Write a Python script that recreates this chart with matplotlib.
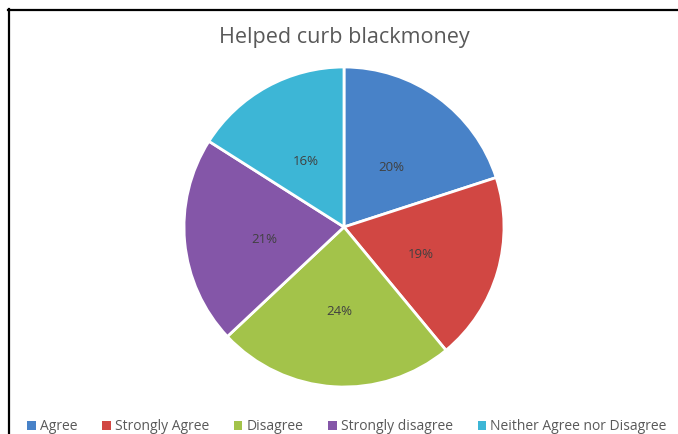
import matplotlib
matplotlib.use("Agg")
import matplotlib.pyplot as plt
from matplotlib.lines import Line2D
from matplotlib.patches import Patch

title = "Helped curb blackmoney"
categories = ["Agree", "Strongly Agree", "Disagree", "Strongly disagree",
              "Neither Agree nor Disagree"]
shares = [20, 19, 24, 21, 16]
colors = ["#4882C8", "#D14743", "#A3C34A", "#8456A8", "#3DB6D6"]

plt.rcParams["font.family"] = ["Open Sans", "DejaVu Sans"]

W, H = 678, 434
fig = plt.figure(figsize=(W / 100, H / 100), dpi=100)

# pie area: 320 px square centred at (344, 227) from the top-left
cx, cy, r = 344, 227, 160
ax = fig.add_axes([(cx - r) / W, (H - cy - r) / H, 2 * r / W, 2 * r / H])
wedges, texts, autotexts = ax.pie(
    shares, colors=colors, startangle=90, counterclock=False,
    autopct=lambda p: f"{p:.0f}%", pctdistance=0.5,
    wedgeprops=dict(edgecolor="white", linewidth=2),
    textprops=dict(color="#404040", fontsize=9.5))
# nudge the percentage labels slightly downward
for t in autotexts:
    x, y = t.get_position()
    t.set_position((x, y - 0.03))
ax.set_xlim(-1, 1)
ax.set_ylim(-1, 1)
ax.set_aspect("equal")
ax.axis("off")

fig.text(cx / W, 1 - 37 / H, title, ha="center", va="center",
         fontsize=15.5, color="#595959")

handles = [Patch(facecolor=c, edgecolor="none") for c in colors]
fig.legend(handles, categories, loc="center", bbox_to_anchor=(347 / W, 1 - 426.5 / H),
           ncol=5, frameon=False, fontsize=10, labelcolor="#595959",
           handlelength=0.6, handleheight=0.6, handletextpad=0.3,
           columnspacing=1.8, borderpad=0, borderaxespad=0)

# frame lines along the top and left edges
fig.add_artist(Line2D([8 / W, 1], [1 - 9.5 / H] * 2, transform=fig.transFigure,
                      color="black", linewidth=1.6))
fig.add_artist(Line2D([8.5 / W] * 2, [0, 1 - 9 / H], transform=fig.transFigure,
                      color="black", linewidth=1.6))

fig.savefig("out.png", dpi=100)
